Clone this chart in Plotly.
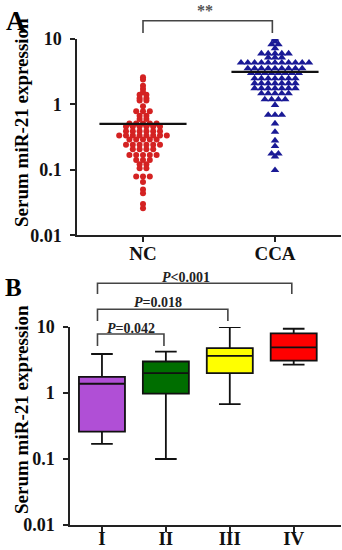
import plotly.graph_objects as go

# ---------------- data ----------------
groups_a = ["NC", "CCA"]
nc_values = [2.6, 2.4, 1.93, 1.72, 1.53, 1.41, 1.41, 1.24, 1.24, 1.15, 1.15, 0.94,
             0.79, 0.79, 0.79, 0.67, 0.67, 0.6, 0.6,
             0.51, 0.51, 0.51, 0.51, 0.51,
             0.46, 0.46, 0.46, 0.46, 0.46, 0.46,
             0.39, 0.39, 0.39, 0.39, 0.39, 0.39,
             0.335, 0.335, 0.335, 0.335, 0.335, 0.335, 0.335, 0.335,
             0.29, 0.29, 0.29, 0.29, 0.29,
             0.243, 0.243, 0.243, 0.243, 0.243, 0.243,
             0.206, 0.206, 0.206, 0.206,
             0.168, 0.168, 0.168, 0.168, 0.168,
             0.141, 0.141, 0.141, 0.122, 0.122, 0.106, 0.106,
             0.079, 0.079, 0.079, 0.065, 0.05, 0.044, 0.03, 0.026]
cca_values = [10.5, 9.9, 9.1, 8.3, 8.3, 7.2,
              6.0, 6.0, 6.0, 6.0, 6.0, 5.2, 5.2, 5.2,
              4.35, 4.35, 4.35, 4.35, 4.35, 4.35, 4.35, 4.35, 4.35, 4.35, 4.35,
              3.55, 3.55, 3.55, 3.55, 3.55, 3.55, 3.55, 3.55, 3.55,
              3.0, 3.0, 3.0, 3.0, 3.0, 3.0, 3.0, 3.0,
              2.5, 2.5, 2.5, 2.5, 2.5, 2.5, 2.5,
              2.1, 2.1, 2.1, 2.1, 2.1, 2.1, 2.1,
              1.76, 1.76, 1.76, 1.76, 1.76, 1.76, 1.76,
              1.47, 1.47, 1.47, 1.47, 1.47,
              1.19, 1.19, 1.19, 1.19, 0.98,
              0.69, 0.69, 0.69, 0.51, 0.38, 0.28, 0.23, 0.177, 0.177, 0.16, 0.099]
sig_a = "**"

y_ticks = [0.01, 0.1, 1, 10]
y_tick_labels = ["0.01", "0.1", "1", "10"]

stages = ["I", "II", "III", "IV"]
box_lower = [0.17, 0.10, 0.68, 2.7]
box_q1 = [0.26, 0.98, 2.0, 3.1]
box_median = [1.38, 2.0, 3.65, 4.9]
box_q3 = [1.75, 3.0, 4.8, 8.0]
box_upper = [3.9, 4.25, 10.0, 9.4]
box_colors = ["#B04FD6", "#006E00", "#FFFF00", "#FF0000"]
comparisons = [(0, 1, "=0.042"), (0, 2, "=0.018"), (0, 3, "<0.001")]

y_title = "Serum miR-21 expression"

# ---------------- helpers ----------------
W, H = 342, 550
FONT = "Liberation Serif"


def py(y):
    return 1 - y / H


def swarm(values, center, step):
    rows = {}
    for v in values:
        rows.setdefault(v, 0)
        rows[v] += 1
    xs, ys = [], []
    for v, n in rows.items():
        for i in range(n):
            xs.append(center + (i - (n - 1) / 2) * step)
            ys.append(v)
    return xs, ys


fig = go.Figure()

# ---------------- panel A ----------------
step_a = 6.8 / 132
styles = [dict(color="#D42222", symbol="circle", size=6),
          dict(color="#1A1A96", symbol="triangle-up", size=7.5)]
for i, vals in enumerate([nc_values, cca_values]):
    xs, ys = swarm(vals, i, step_a)
    fig.add_trace(go.Scatter(x=xs, y=ys, mode="markers", marker=styles[i],
                             xaxis="x", yaxis="y", hoverinfo="skip"))
    mean = sum(vals) / len(vals)
    fig.add_trace(go.Scatter(x=[i - 0.33, i + 0.33], y=[mean, mean], mode="lines",
                             line=dict(color="#111", width=2.2),
                             xaxis="x", yaxis="y", hoverinfo="skip"))

# ---------------- panel B ----------------
for i, s in enumerate(stages):
    fig.add_trace(go.Box(x=[i], q1=[box_q1[i]], median=[box_median[i]], q3=[box_q3[i]],
                         lowerfence=[box_lower[i]], upperfence=[box_upper[i]],
                         fillcolor=box_colors[i], line=dict(color="#111", width=1.8),
                         width=0.72, whiskerwidth=0.47, boxpoints=False,
                         xaxis="x2", yaxis="y2", hoverinfo="skip"))

axis_common = dict(showline=True, linecolor="#222", linewidth=1.5, ticks="outside",
                   ticklen=5, tickwidth=1.5, tickcolor="#222", showgrid=False,
                   zeroline=False, automargin=False)
ytick_font = dict(family=FONT, size=18, color="#111", weight="bold")

fig.update_layout(
    width=W, height=H, margin=dict(l=0, r=0, t=0, b=0, autoexpand=False),
    plot_bgcolor="white", paper_bgcolor="white", showlegend=False,
    xaxis=dict(domain=[77 / W, 341 / W], range=[-0.5, 1.5], tickvals=[0, 1],
               ticktext=groups_a, anchor="y", ticklabelstandoff=-5,
               tickfont=dict(family=FONT, size=19, color="#111", weight="bold"),
               **axis_common),
    yaxis=dict(domain=[py(235.3), py(39)], type="log", range=[-2, 1],
               tickvals=y_ticks, ticktext=y_tick_labels, anchor="x",
               ticklabelstandoff=5, tickfont=ytick_font, **axis_common),
    xaxis2=dict(domain=[70 / W, 341 / W], range=[-0.5, 3.74], tickvals=[0, 1, 2, 3],
                ticktext=stages, anchor="y2", ticklabelstandoff=-10,
                tickfont=dict(family=FONT, size=19, color="#111", weight="bold"),
                **axis_common),
    yaxis2=dict(domain=[py(525), py(327)], type="log", range=[-2, 1],
                tickvals=y_ticks, ticktext=y_tick_labels, anchor="x2",
                ticklabelstandoff=5, tickfont=ytick_font, **axis_common),
)

# ---------------- brackets & annotations ----------------
bracket_line = dict(color="#444", width=1.6)
# panel A
fig.add_shape(type="path", xref="x", yref="paper",
              path=f"M 0,{py(33)} L 0,{py(20.7)} L 0.98,{py(20.7)} L 0.98,{py(33)}",
              line=bracket_line)
fig.add_annotation(x=0.47, xref="x", y=py(21), yref="paper", yanchor="bottom",
                   text=sig_a, showarrow=False,
                   font=dict(family=FONT, size=16, color="#555", weight="bold"))

# panel B
levels = {1: (334, 346, 328), 2: (309.3, 321, 302.5), 3: (283.3, 294, 277)}
text_x = {1: 0.45, 2: 0.88, 3: 1.32}
for a, b, label in comparisons:
    top, drop, ty = levels[b]
    xa, xb = a - 0.07, b - 0.03
    fig.add_shape(type="path", xref="x2", yref="paper",
                  path=f"M {xa},{py(drop)} L {xa},{py(top)} L {xb},{py(top)} L {xb},{py(drop)}",
                  line=bracket_line)
    fig.add_annotation(x=text_x[b], xref="x2", y=py(ty), yref="paper", yanchor="middle",
                       text=f"<i>P</i>{label}", showarrow=False,
                       font=dict(family=FONT, size=14, color="#222", weight="bold"))

# panel letters
fig.add_annotation(x=4 / W, y=py(4), xref="paper", yref="paper", xanchor="left",
                   yanchor="top", text="A", showarrow=False,
                   font=dict(family=FONT, size=27, color="#000", weight="bold"))
fig.add_annotation(x=3 / W, y=py(272), xref="paper", yref="paper", xanchor="left",
                   yanchor="top", text="B", showarrow=False,
                   font=dict(family=FONT, size=25, color="#000", weight="bold"))

# y titles
for yc in (123, 410):
    fig.add_annotation(x=21 / W, y=py(yc), xref="paper", yref="paper",
                       xanchor="center", yanchor="middle", textangle=-90,
                       text=y_title, showarrow=False,
                       font=dict(family=FONT, size=19, color="#000", weight="bold"))

fig.write_html("out.html", config={"displayModeBar": False},
               post_script="document.body.style.margin='0';document.body.style.overflow='hidden';")
